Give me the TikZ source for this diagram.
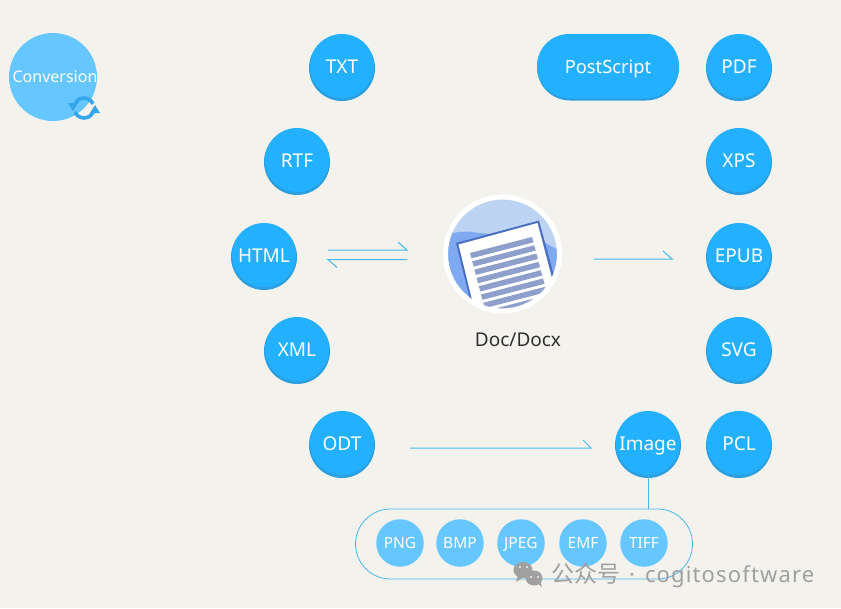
\documentclass[tikz,border=0pt]{standalone}
\usepackage{fontspec}
\setmainfont{Noto Sans}
\newfontfamily\cjkf{Noto Sans CJK SC}
\usetikzlibrary{calc}
\definecolor{bgc}{HTML}{F4F2EC}
\definecolor{blu}{HTML}{23B1FF}
\definecolor{rim}{HTML}{2C9FE0}
\definecolor{lite}{HTML}{66C6FF}
\definecolor{linec}{HTML}{45B9EE}
\definecolor{markc}{HTML}{A0A0A0}
\definecolor{sky}{HTML}{BDD3F3}
\definecolor{hill}{HTML}{7FA9F1}
\definecolor{paperedge}{HTML}{4A6FC0}
\definecolor{rowc}{HTML}{8E9FCC}
\definecolor{labelc}{HTML}{2E2E2E}
\definecolor{refreshc}{HTML}{35A6EA}
\tikzset{
 fmt/.style={circle,fill=blu,text=white,minimum size=64pt,inner sep=0pt,text height=15.2pt,text depth=0pt,font=\fontsize{19}{19}\selectfont},
 sub/.style={circle,fill=lite,text=white,minimum size=47.5pt,inner sep=0pt,text height=11.6pt,text depth=0pt,font=\fontsize{15.5}{16}\selectfont},
 conn/.style={draw=linec,line width=1pt},
 pt0/.style={inner sep=0pt,outer sep=0pt}
}
\newcommand{\fmtnode}[3]{%
 \fill[rim] (#2,#3+1) circle (33pt);
 \node[fmt] (#1) at (#2,#3-1) {#1};}
\begin{document}
\begin{tikzpicture}[x=1pt,y=-1pt]
\useasboundingbox (0,0) rectangle (841,608);
\fill[bgc] (0,0) rectangle (841,608);
% legend
\fill[lite] (53,77) circle (44pt);
\node[text=white,font=\fontsize{16}{17}\selectfont,pt0,text height=11.5pt,text depth=0pt] (conv) at (55,77) {Conversion};
\coordinate (rc) at (84,108);
\draw[refreshc,line width=3.6pt] ($(rc)+(205:10pt)$) arc (205:335:10pt);
\draw[refreshc,line width=3.6pt] ($(rc)+(25:10pt)$) arc (25:155:10pt);
\fill[refreshc] (68,103) -- (78,103) -- (73,111) -- cycle;
\fill[refreshc] (90,113) -- (100,113) -- (95,105) -- cycle;
% formats
\fmtnode{TXT}{342}{67}
\fmtnode{RTF}{297}{161}
\fmtnode{HTML}{264}{256}
\fmtnode{XML}{297}{350}
\fmtnode{ODT}{342}{444}
\fmtnode{Image}{648}{444}
\fmtnode{PCL}{739}{444}
\fmtnode{SVG}{739}{350}
\fmtnode{EPUB}{739}{256}
\fmtnode{XPS}{739}{161}
\fmtnode{PDF}{739}{67}
\fill[rim] (570,34.5) arc (90:270:33pt) -- (646,100.5) arc (-90:90:33pt) -- cycle;
\node[pt0,fill=blu,rounded corners=32pt,minimum width=142pt,minimum height=64pt,text=white,text height=14.6pt,text depth=0pt,font=\fontsize{18.3}{19}\selectfont] (PS) at (608,66) {PostScript};
% central document
\coordinate (doc) at (502.5,254);
\begin{scope}
 \clip (doc) circle (57pt);
 \fill[sky] (doc) circle (58pt);
 \fill[hill] (440,236) .. controls (455,232) and (465,231) .. (472,232) -- (540,240) .. controls (548,244) and (555,249) .. (570,256) -- (570,320) -- (440,320) -- cycle;
 \fill[paperedge] (456,243) -- (539,220.5) -- (566,320) -- (475,320) -- cycle;
 \fill[white] (458.5,244.5) -- (537.5,223) -- (563,320) -- (477,320) -- cycle;
 \foreach \i in {0,...,7}{
  \fill[rowc] ($(470,253)+(\i*2.2,\i*8.3)$) -- ++(62,-16) -- ++(1.5,5.3) -- ++(-62,16) -- cycle;
 }
\end{scope}
\draw[white,line width=5pt] (doc) circle (57pt);
\node[pt0,text=labelc,font=\fontsize{19}{19}\selectfont,text height=13.6pt,text depth=0pt] (doclabel) at (518,340) {Doc/Docx};
% arrows
\coordinate (a1) at (328,250); \coordinate (a2) at (407,250);
\coordinate (b1) at (328,259.5); \coordinate (b2) at (407,259.5);
\coordinate (c1) at (594,259); \coordinate (c2) at (672,259);
\coordinate (d1) at (410,448); \coordinate (d2) at (591,448);
\draw[conn] (a1) -- (a2) -- ++(-9,-8);
\draw[conn] (b2) -- (b1) -- ++(9,8);
\draw[conn] (c1) -- (c2) -- ++(-9,-8);
\draw[conn] (d1) -- (d2) -- ++(-8,-8);
% image group
\node[draw=linec,line width=0.8pt,rounded corners=35pt,minimum width=337pt,minimum height=70pt,pt0] (grp) at (524,544) {};
\draw[conn] (Image.south) -- (Image.south |- grp.north);
\node[sub] (PNG) at (400,543) {PNG};
\node[sub] (BMP) at (460,543) {BMP};
\node[sub] (JPEG) at (521,543) {JPEG};
\node[sub] (EMF) at (583,543) {EMF};
\node[sub] (TIFF) at (644,543) {TIFF};
% watermark
\fill[markc] (523,570) ellipse (9.5pt and 8pt);
\fill[markc] (534,578) ellipse (8.5pt and 7.5pt);
\fill[markc] (518,575) -- (516,582) -- (524,577) -- cycle;
\fill[markc] (537,583) -- (542,587) -- (540,580) -- cycle;
\fill[bgc] (520,567) circle (1.2pt) (527,567) circle (1.2pt) (531,577) circle (1.1pt) (538,577) circle (1.1pt);
\node[pt0,text=markc,font=\fontsize{23}{23}\selectfont,anchor=base west] (wm) at (551,582) {\cjkf 公众号};
\node[pt0,text=markc,font=\fontsize{22}{22}\selectfont,anchor=base] (wmdot) at (632,582) {·};
\node[pt0,text=markc,font=\fontsize{22}{22}\addfontfeatures{LetterSpace=5.2}\selectfont,anchor=base west] (wmt) at (645,582) {cogitosoftware};
\end{tikzpicture}
\end{document}
